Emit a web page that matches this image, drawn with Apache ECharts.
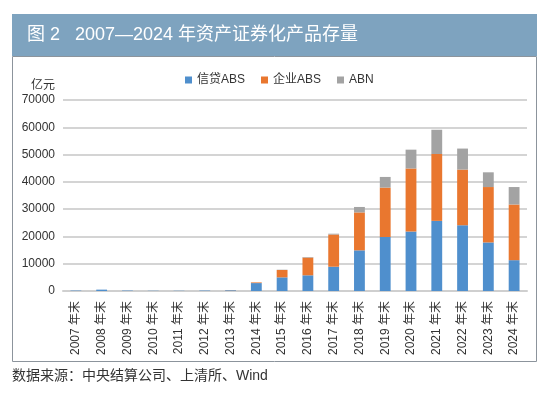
<!DOCTYPE html>
<html lang="zh-CN" style="height: 100%">
  <head>
    <meta charset="utf-8" />
  </head>
  <body style="height: 100%; margin: 0; overflow: hidden; background: #fff">
    <div id="container" style="width: 550px; height: 397px"></div>
    <script type="text/javascript" src="https://cdn.jsdelivr.net/npm/echarts@6/dist/echarts.min.js"></script>
    <script type="text/javascript">
      const years = ['2007', '2008', '2009', '2010', '2011', '2012', '2013', '2014', '2015', '2016', '2017', '2018', '2019', '2020', '2021', '2022', '2023', '2024']
      const categories = years.map((y) => y + ' 年末')
      const seriesNames = ['信贷ABS', '企业ABS', 'ABN']
      // 亿元
      const creditAbs = [150, 500, 150, 80, 80, 150, 250, 2900, 5000, 5750, 8900, 14900, 19800, 21800, 25700, 24100, 17800, 11300]
      const corpAbs = [0, 0, 0, 0, 0, 0, 50, 250, 2700, 6500, 11800, 13900, 18100, 23100, 24500, 20400, 20300, 20400]
      const abn = [0, 0, 0, 0, 0, 0, 0, 0, 100, 200, 300, 2000, 3900, 6900, 8900, 7700, 5400, 6400]
      const colors = ['#4f8fcd', '#e9772f', '#a3a3a3']

      const font = '"Liberation Sans", "Noto Sans CJK SC", sans-serif'
      const dom = document.getElementById('container')
      const myChart = echarts.init(dom, null, { renderer: 'canvas' })

      const option = {
        animation: false,
        color: colors,
        textStyle: { fontFamily: font },
        graphic: [
          {
            type: 'rect',
            shape: { x: 12.5, y: 56.5, width: 524, height: 305 },
            style: { fill: '#fff', stroke: '#8c949c', lineWidth: 1 },
            z: -10,
          },
          {
            type: 'rect',
            shape: { x: 12, y: 14, width: 525, height: 42 },
            style: { fill: '#7ea3bf' },
          },
          {
            type: 'text',
            left: 27,
            top: 26,
            style: {
              text: '图 2   2007—2024 年资产证券化产品存量',
              fill: '#fff',
              font: '18px ' + font,
            },
          },
          {
            type: 'text',
            left: 12,
            top: 369,
            style: {
              text: '数据来源：中央结算公司、上清所、Wind',
              fill: '#333',
              font: '14px ' + font,
            },
          },
        ],
        legend: {
          data: seriesNames,
          left: 180,
          top: 69,
          icon: 'rect',
          itemWidth: 7,
          itemHeight: 7,
          itemGap: 16,
          textStyle: { fontSize: 12, color: '#333', fontFamily: font },
        },
        grid: { left: 63, right: 23, top: 100, bottom: 106 },
        xAxis: {
          type: 'category',
          data: categories,
          axisTick: { show: false },
          axisLine: { lineStyle: { color: '#cfcfcf', width: 2 } },
          axisLabel: {
            rotate: 90,
            interval: 0,
            fontSize: 12,
            color: '#333',
            margin: 10,
            fontFamily: font,
          },
        },
        yAxis: {
          type: 'value',
          min: 0,
          max: 70000,
          interval: 10000,
          name: '亿元',
          nameLocation: 'end',
          nameGap: 8,
          nameTextStyle: { align: 'right', padding: [0, 8, 0, 0], fontSize: 12, color: '#333', fontFamily: font },
          axisLine: { show: false },
          axisTick: { show: false },
          axisLabel: { fontSize: 12, color: '#333', margin: 8, fontFamily: font, formatter: (v) => String(v) },
          splitLine: { lineStyle: { color: '#d4d4d4', width: 2 } },
        },
        series: [
          { name: seriesNames[0], type: 'bar', stack: 'total', barWidth: '42%', data: creditAbs },
          { name: seriesNames[1], type: 'bar', stack: 'total', barWidth: '42%', data: corpAbs },
          { name: seriesNames[2], type: 'bar', stack: 'total', barWidth: '42%', data: abn },
        ],
      }

      myChart.setOption(option)
      window.addEventListener('resize', myChart.resize)
    </script>
  </body>
</html>
